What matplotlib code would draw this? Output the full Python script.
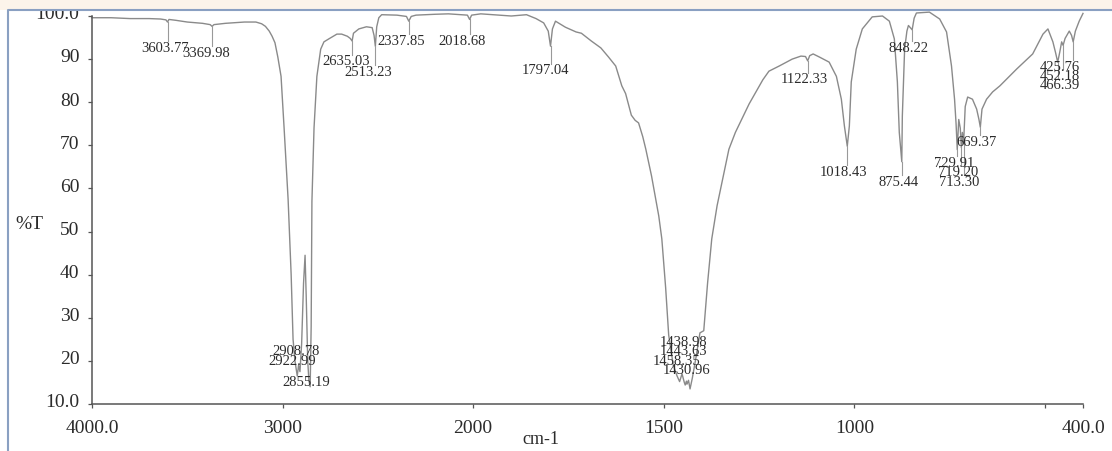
import numpy as np
import matplotlib
matplotlib.use("Agg")
import matplotlib.pyplot as plt
from matplotlib.patches import Rectangle
from matplotlib.lines import Line2D
from matplotlib.transforms import ScaledTranslation

plt.rcParams['font.family'] = ['Liberation Serif', 'DejaVu Serif']

# IR spectrum (wavenumber cm-1, %T)
wavenumber = [
    4000, 3900, 3800, 3700, 3640, 3612, 3603.77, 3596, 3560, 3500, 3420, 3380,
    3369.98, 3360, 3300, 3200, 3140, 3110, 3090, 3070, 3055, 3040, 3025, 3008,
    2992, 2971, 2955, 2945, 2935, 2922.99, 2916, 2908.78, 2900, 2890, 2882,
    2876, 2868, 2862, 2855.19, 2850, 2846, 2835, 2820, 2800, 2783, 2757, 2715,
    2690, 2660, 2645, 2635.03, 2628, 2600, 2560, 2530, 2520, 2513.23, 2506,
    2495, 2480, 2400, 2350, 2337.85, 2325, 2300, 2200, 2130, 2030, 2018.68,
    2008, 1980, 1900, 1860, 1835, 1815, 1803, 1797.04, 1792, 1784, 1758, 1730,
    1716, 1690, 1665, 1645, 1626, 1610, 1600, 1585, 1575, 1566, 1555, 1547,
    1532, 1513, 1505, 1495, 1487, 1475, 1465, 1458.35, 1452, 1446, 1443.63,
    1440.5, 1438.98, 1435, 1430.96, 1425, 1415, 1405, 1395, 1385, 1374, 1360,
    1347, 1329, 1312, 1295, 1276, 1258, 1240, 1224, 1197, 1163, 1140, 1128,
    1122.33, 1117, 1108, 1092, 1066, 1047, 1034, 1026, 1018.43, 1013, 1008,
    995, 979, 953, 926, 908, 895, 887, 882, 875.44, 874, 868, 862, 858, 852,
    848.22, 843, 837, 803, 776, 758, 745, 737, 733, 729.91, 726, 722, 719.20,
    716.5, 713.30, 709, 702.6, 690, 679, 673, 669.37, 665, 653, 637, 618, 574,
    532, 505, 492, 479, 472, 466.39, 461, 456, 452.18, 447, 436, 430, 425.76,
    420, 410, 400,
]
transmittance = [
    99.6, 99.6, 99.4, 99.4, 99.3, 99.1, 98.6, 99.2, 99.0, 98.6, 98.3, 98.0,
    97.6, 98.0, 98.3, 98.6, 98.6, 98.2, 97.6, 96.5, 95.3, 93.8, 90.5, 86.0,
    74.0, 57.5, 40.0, 25.0, 20.0, 16.5, 19.0, 17.5, 24.0, 38.0, 44.5,
    35.0, 20.0, 15.5, 14.0, 28.0, 57.0, 74.0, 86.0, 92.3, 94.0, 94.7, 95.8,
    95.8, 95.3, 94.8, 94.2, 96.0, 97.0, 97.5, 97.3, 95.5, 93.0, 97.5,
    99.6, 100.3, 100.2, 99.9, 98.8, 99.9, 100.2, 100.4, 100.5, 100.2, 99.2,
    100.2, 100.5, 100.0, 100.3, 99.4, 98.4, 96.5, 93.0, 97.0, 98.8, 97.4, 96.3,
    96.0, 94.2, 92.6, 90.5, 88.4, 83.8, 82.0, 77.0, 75.8, 75.2, 72.0, 69.1,
    62.9, 53.6, 48.3, 37.0, 26.0, 19.0, 16.5, 15.2, 17.0, 15.0, 14.4,
    15.3, 14.6, 15.5, 13.5, 16.0, 21.0, 26.5, 27.0, 38.0, 48.3, 56.0,
    61.5, 69.1, 73.0, 76.1, 79.6, 82.4, 85.2, 87.2, 88.4, 90.0, 90.7, 90.6,
    89.6, 90.8, 91.2, 90.5, 89.3, 86.0, 80.7, 74.5, 69.8, 74.5, 84.7,
    92.3, 97.0, 99.8, 100.0, 98.8, 94.7, 84.7, 73.0, 66.2, 76.8, 92.3, 96.5, 97.8, 97.2,
    96.8, 99.5, 100.7, 100.9, 99.3, 96.3, 88.4, 80.7, 75.0, 69.0, 76.0, 74.0, 69.5,
    73.0, 70.5, 79.0, 81.2, 80.7, 78.4, 76.0, 74.2, 78.4, 80.7, 82.4, 83.8, 87.7,
    91.2, 95.8, 97.0, 94.0, 91.5, 89.3, 91.6, 94.0, 93.2, 94.8, 96.5, 95.5, 94.0,
    96.5, 98.8, 100.6,
]

# peak picks and where their labels sit (wavenumber, %T of label centre)
peak_wn = [3603.77, 3369.98, 2922.99, 2908.78, 2855.19, 2635.03, 2513.23,
           2337.85, 2018.68, 1797.04, 1458.35, 1443.63, 1438.98, 1430.96,
           1122.33, 1018.43, 875.44, 848.22, 729.91, 719.20, 713.30, 669.37,
           466.39, 452.18, 425.76]
label_wn = [3619, 3400, 2950, 2930, 2877, 2666, 2548,
            2376, 2057, 1809, 1466, 1447, 1447, 1439,
            1132, 1029, 884, 857, 737, 728, 726, 679,
            460, 460, 460]
label_T = [92.8, 91.6, 20.0, 22.3, 15.3, 89.6, 87.2,
           94.4, 94.4, 87.5, 20.2, 22.3, 24.4, 18.1,
           85.4, 64.0, 61.7, 92.8, 66.1, 64.0, 61.7, 71.0,
           84.0, 86.3, 88.4]

xticks = [4000, 3000, 2000, 1500, 1000, 500, 400]
xtick_labels = ['4000.0', '3000', '2000', '1500', '1000', '', '400.0']
yticks = [10, 20, 30, 40, 50, 60, 70, 80, 90, 100]
ytick_labels = ['10.0', '20', '30', '40', '50', '60', '70', '80', '90', '100.0']


def forward(x):
    x = np.asarray(x, dtype=float)
    return np.where(x >= 2000, x, 2 * x - 2000)


def inverse(u):
    u = np.asarray(u, dtype=float)
    return np.where(u >= 2000, u, (u + 2000) / 2)


W, H = 1112, 452
fig = plt.figure(figsize=(W / 100, H / 100), dpi=100)
fig.patch.set_facecolor('white')
ax = fig.add_axes([92 / W, 47 / H, (1083 - 92) / W, (405 - 17) / H])
ax.set_xscale('function', functions=(forward, inverse))
ax.set_xlim(4000, 400)
ax.set_ylim(10, 100)

curve = '#8a8a8a'
ax.plot(wavenumber, transmittance, color=curve, lw=1.0, clip_on=False)

# leader lines + peak labels
peak_T = np.interp(peak_wn, wavenumber[::-1], transmittance[::-1])
for wn, pt, lx, ly in zip(peak_wn, peak_T, label_wn, label_T):
    top = ly + 1.4
    if pt > top:
        ax.plot([wn, wn], [top, pt], color='#999999', lw=0.8)
    ax.text(lx, ly, f'{wn:.2f}', ha='center', va='center', fontsize=10.5,
            color='#2b2b2b')

for s in ['top', 'right']:
    ax.spines[s].set_visible(False)
for s in ['left', 'bottom']:
    ax.spines[s].set_color('#555555')
    ax.spines[s].set_linewidth(1.1)

ax.set_xticks(xticks)
ax.set_xticklabels(xtick_labels)
ax.set_yticks(yticks)
ax.set_yticklabels(ytick_labels)
ax.xaxis.set_minor_locator(matplotlib.ticker.NullLocator())
ax.tick_params(axis='both', length=3, width=0.9, color='#555555',
               labelsize=14, labelcolor='#2b2b2b')
ax.tick_params(axis='x', pad=8)
ax.tick_params(axis='y', pad=6)
for lab in ax.get_yticklabels():
    lab.set_transform(lab.get_transform() + ScaledTranslation(0, 3 / 72, fig.dpi_scale_trans))

fig.text(29 / W, 1 - 225 / H, '%T', ha='center', va='center', fontsize=14, color='#2b2b2b')
fig.text(541 / W, 1 - 440 / H, 'cm-1', ha='center', va='center', fontsize=13, color='#2b2b2b')

# scanned page frame
fig.add_artist(Rectangle((0, 1 - 11 / H), 1, 11 / H, transform=fig.transFigure,
                         facecolor='#fcf4ea', edgecolor='none', zorder=10))
fig.add_artist(Line2D([8 / W, 8 / W, 1], [0, 1 - 11 / H, 1 - 11 / H],
                      transform=fig.transFigure, color='#8aa0c2', lw=1.5, zorder=11))

fig.savefig('out.png', dpi=100)
